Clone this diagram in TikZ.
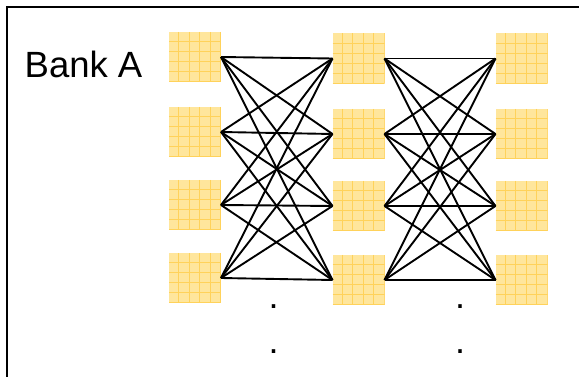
\documentclass[tikz,border=0pt]{standalone}
\usepackage{fontspec}
\setmainfont{Liberation Sans}
\definecolor{cellfill}{RGB}{255,230,156}
\definecolor{cellline}{RGB}{255,210,90}
\tikzset{
  cell/.style={rectangle, inner sep=0pt, outer sep=0pt, minimum width=52pt, minimum height=50pt, fill=cellfill,
    path picture={
      \foreach \k in {0.2,0.4,0.6,0.8,1.0}{
        \draw[cellline, line width=0.9pt] (path picture bounding box.north west) ++(\k*52pt-0.5pt,0pt) -- ++(0pt,-50pt);
        \draw[cellline, line width=0.9pt] (path picture bounding box.north west) ++(0pt,-\k*50pt+0.5pt) -- ++(52pt,0pt);
      }}},
  link/.style={black, line width=1.9pt},
  lbl/.style={font=\fontsize{36.5pt}{42pt}\selectfont, inner sep=0pt, anchor=base west},
  dotlbl/.style={font=\fontsize{36pt}{40pt}\selectfont, inner sep=0pt, anchor=center}
}
\begin{document}
\begin{tikzpicture}[x=1pt,y=-1pt]
\useasboundingbox (0,0) rectangle (579,377);
\clip (0,0) rectangle (579,377);
\fill[white] (0,0) rectangle (579,377);
\draw[line width=2pt] (7,7) rectangle (620,420);
\node[lbl] (title) at (24.5,78) {Bank A};
% column 1
\node[cell] (a1) at (195,57) {};
\node[cell] (a2) at (195,132) {};
\node[cell] (a3) at (195,205) {};
\node[cell] (a4) at (195,278) {};
% column 2
\node[cell] (b1) at (358.5,58.5) {};
\node[cell] (b2) at (358.5,134) {};
\node[cell] (b3) at (358.5,206) {};
\node[cell] (b4) at (358.5,280) {};
% column 3
\node[cell] (c1) at (521.5,58.5) {};
\node[cell] (c2) at (521.5,134) {};
\node[cell] (c3) at (521.5,206) {};
\node[cell] (c4) at (521.5,280) {};
\foreach \i in {1,...,4}{
  \foreach \j in {1,...,4}{
    \draw[link] (a\i.east) -- (b\j.west);
    \draw[link] (b\i.east) -- (c\j.west);
  }
}
\node[dotlbl] (d1) at (273.5,307) {.};
\node[dotlbl] (d2) at (273.5,352) {.};
\node[dotlbl] (d3) at (460,307) {.};
\node[dotlbl] (d4) at (460,352) {.};
\end{tikzpicture}
\end{document}
